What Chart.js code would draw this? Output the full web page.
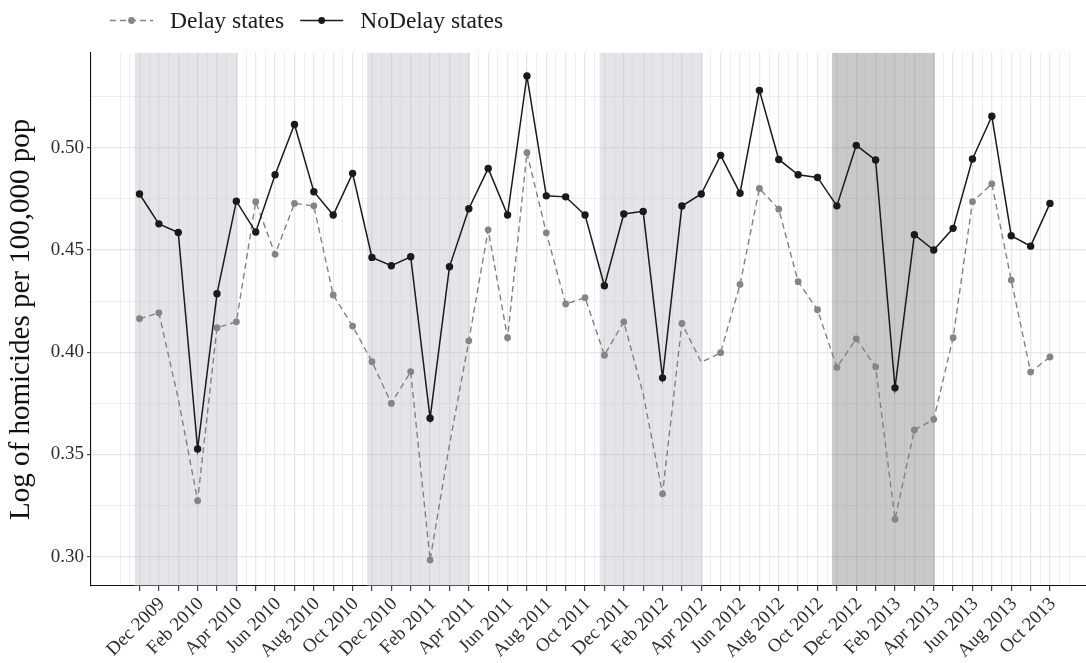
<!DOCTYPE html>
<html>
<head>
<meta charset="utf-8">
<script src="https://cdn.jsdelivr.net/npm/chart.js@4/dist/chart.umd.min.js"></script>
<style>
  html, body { margin: 0; padding: 0; background: #ffffff; overflow: hidden; }
  #wrap { position: relative; width: 1086px; height: 663px; }
</style>
</head>
<body>
<div id="wrap"><canvas id="chart" width="1086" height="663"></canvas></div>
<script>
// Monthly observations, Nov 2009 - Oct 2013
const months = [
  'Nov 2009', 'Dec 2009',
  'Jan 2010', 'Feb 2010', 'Mar 2010', 'Apr 2010', 'May 2010', 'Jun 2010',
  'Jul 2010', 'Aug 2010', 'Sep 2010', 'Oct 2010', 'Nov 2010', 'Dec 2010',
  'Jan 2011', 'Feb 2011', 'Mar 2011', 'Apr 2011', 'May 2011', 'Jun 2011',
  'Jul 2011', 'Aug 2011', 'Sep 2011', 'Oct 2011', 'Nov 2011', 'Dec 2011',
  'Jan 2012', 'Feb 2012', 'Mar 2012', 'Apr 2012', 'May 2012', 'Jun 2012',
  'Jul 2012', 'Aug 2012', 'Sep 2012', 'Oct 2012', 'Nov 2012', 'Dec 2012',
  'Jan 2013', 'Feb 2013', 'Mar 2013', 'Apr 2013', 'May 2013', 'Jun 2013',
  'Jul 2013', 'Aug 2013', 'Sep 2013', 'Oct 2013'
];

// Months that carry a label on the time axis
const tickLabels = [
  'Dec 2009', 'Feb 2010', 'Apr 2010', 'Jun 2010', 'Aug 2010', 'Oct 2010',
  'Dec 2010', 'Feb 2011', 'Apr 2011', 'Jun 2011', 'Aug 2011', 'Oct 2011',
  'Dec 2011', 'Feb 2012', 'Apr 2012', 'Jun 2012', 'Aug 2012', 'Oct 2012',
  'Dec 2012', 'Feb 2013', 'Apr 2013', 'Jun 2013', 'Aug 2013', 'Oct 2013'
];

// Log of homicides per 100,000 population
const noDelay = [
  0.4774, 0.4628, 0.4586, 0.3527, 0.4286, 0.4739, 0.4588, 0.4868,
  0.5114, 0.4785, 0.4671, 0.4875, 0.4464, 0.4423, 0.4467, 0.3677,
  0.4418, 0.4702, 0.4899, 0.4671, 0.5351, 0.4765, 0.4760, 0.4671,
  0.4325, 0.4676, 0.4689, 0.3875, 0.4715, 0.4774, 0.4963, 0.4778,
  0.5281, 0.4943, 0.4868, 0.4855, 0.4716, 0.5012, 0.4940, 0.3826,
  0.4575, 0.4500, 0.4606, 0.4945, 0.5154, 0.4570, 0.4519, 0.4728
];

const delay = [
  0.4164, 0.4193, 0.3773, 0.3274, 0.4120, 0.4149, 0.4736, 0.4479,
  0.4728, 0.4716, 0.4280, 0.4128, 0.3954, 0.3750, 0.3905, 0.2984,
  0.3547, 0.4056, 0.4599, 0.4071, 0.4976, 0.4584, 0.4236, 0.4267,
  0.3986, 0.4149, 0.3796, 0.3308, 0.4141, 0.3951, 0.3998, 0.4332,
  0.4801, 0.4700, 0.4345, 0.4208, 0.3926, 0.4066, 0.3929, 0.3183,
  0.3620, 0.3672, 0.4071, 0.4736, 0.4824, 0.4353, 0.3903, 0.3977
];

// Delay-state months drawn on the line without a marker
const delayUnmarked = ['Jan 2010', 'Mar 2011', 'Jan 2012', 'Apr 2012'];

// Shaded periods, in months from Nov 2009
const shadeFrom = [-0.25, 11.75, 23.75, 35.75];
const shadeTo = [5.06, 17.06, 29.06, 41.06];
const shadeDark = [false, false, false, true];

// y-axis labels
const yTickLabels = ['0.30', '0.35', '0.40', '0.45', '0.50'];

const SERIF = '"Liberation Serif", "DejaVu Serif", serif';
const GRID_MAJOR = '#e7e7e7';
const GRID_MINOR = '#eeeeee';

const isMajorX = v => Number.isInteger(v) && v >= 0 && v < months.length;
const yKey = v => (Math.round(v * 1000) / 1000).toFixed(2);
const isMajorY = v => Math.abs(Math.round(v * 1000) % 50) === 0;

const shadePlugin = {
  id: 'shade',
  beforeDatasetsDraw(chart) {
    const { ctx, chartArea, scales: { x } } = chart;
    ctx.save();
    ctx.beginPath();
    ctx.rect(chartArea.left, chartArea.top, chartArea.right - chartArea.left, chartArea.bottom - chartArea.top);
    ctx.clip();
    shadeFrom.forEach((from, i) => {
      const x0 = x.getPixelForValue(from);
      const x1 = x.getPixelForValue(shadeTo[i]);
      ctx.fillStyle = shadeDark[i] ? 'rgba(118,120,126,0.40)' : 'rgba(188,190,198,0.40)';
      ctx.fillRect(x0, chartArea.top, x1 - x0, chartArea.bottom - chartArea.top);
    });
    ctx.restore();
  }
};

const legendPlugin = {
  id: 'keyRow',
  afterDraw(chart) {
    const ctx = chart.ctx;
    const entries = chart.data.datasets.slice().reverse();
    const y = 20.5;
    let x = 110;
    ctx.save();
    ctx.font = '23.5px ' + SERIF;
    ctx.textBaseline = 'alphabetic';
    entries.forEach(ds => {
      const x0 = x, x1 = x + 43;
      ctx.strokeStyle = ds.borderColor;
      ctx.lineWidth = ds.borderWidth;
      ctx.setLineDash(ds.borderDash || []);
      ctx.beginPath();
      ctx.moveTo(x0, y);
      ctx.lineTo(x1, y);
      ctx.stroke();
      ctx.setLineDash([]);
      ctx.fillStyle = ds.pointBackgroundColor;
      ctx.beginPath();
      ctx.arc((x0 + x1) / 2, y, 3.4, 0, Math.PI * 2);
      ctx.fill();
      ctx.fillStyle = '#1a1a1a';
      ctx.fillText(ds.label, x1 + 17, 28.3);
      x = x1 + 17 + ctx.measureText(ds.label).width + 16;
    });
    ctx.restore();
  }
};

new Chart(document.getElementById('chart'), {
  type: 'line',
  data: {
    datasets: [
      {
        label: 'NoDelay states',
        data: noDelay.map((v, i) => ({ x: i, y: v })),
        borderColor: '#1a1a1a',
        borderWidth: 1.5,
        pointBackgroundColor: '#1a1a1a',
        pointBorderWidth: 0,
        pointRadius: 3.7,
        tension: 0,
        order: 0
      },
      {
        label: 'Delay states',
        data: delay.map((v, i) => ({ x: i, y: v })),
        borderColor: '#828282',
        borderWidth: 1.4,
        borderDash: [6, 4],
        pointBackgroundColor: '#858585',
        pointBorderWidth: 0,
        pointRadius: c => delayUnmarked.includes(months[c.dataIndex]) ? 0 : 3.4,
        tension: 0,
        spanGaps: true,
        order: 1
      }
    ]
  },
  options: {
    responsive: false,
    animation: false,
    events: [],
    layout: { autoPadding: false, padding: { top: 52.7, left: 0, right: 0, bottom: 0 } },
    plugins: { legend: { display: false }, tooltip: { enabled: false } },
    scales: {
      x: {
        type: 'linear',
        min: -2.504,
        max: 48.86,
        afterBuildTicks(s) {
          const t = [];
          for (let v = -1; v <= months.length; v += 0.5) t.push({ value: v });
          s.ticks = t;
        },
        afterFit(s) {
          s.height = 77;
          s.paddingLeft = 0;
          s.paddingRight = 0;
        },
        ticks: {
          autoSkip: false,
          minRotation: 45,
          maxRotation: 45,
          padding: 2,
          labelOffset: 3,
          color: '#2e2e2e',
          font: { family: SERIF, size: 19 },
          callback: v => {
            if (!isMajorX(v)) return '';
            return tickLabels.includes(months[v]) ? months[v] : '';
          }
        },
        grid: {
          color: c => isMajorX(c.tick.value) ? GRID_MAJOR : GRID_MINOR,
          lineWidth: c => isMajorX(c.tick.value) ? 1.3 : 1,
          tickColor: c => isMajorX(c.tick.value) ? '#333333' : 'rgba(0,0,0,0)',
          tickLength: 5,
          tickWidth: 1.1
        },
        border: { display: true, color: '#111111', width: 1.1 }
      },
      y: {
        type: 'linear',
        min: 0.2857,
        max: 0.5465,
        afterBuildTicks(s) {
          const t = [];
          for (let k = 0; k <= 9; k++) t.push({ value: 0.30 + k * 0.025 });
          s.ticks = t;
        },
        afterFit(s) {
          s.width = 91;
          s.paddingTop = 0;
          s.paddingBottom = 0;
        },
        ticks: {
          padding: 3,
          color: '#2e2e2e',
          font: { family: SERIF, size: 19 },
          callback: v => {
            const key = yKey(v);
            return isMajorY(v) && yTickLabels.includes(key) ? key : '';
          }
        },
        grid: {
          color: c => isMajorY(c.tick.value) ? GRID_MAJOR : GRID_MINOR,
          lineWidth: c => isMajorY(c.tick.value) ? 1.3 : 1,
          tickColor: c => isMajorY(c.tick.value) ? '#333333' : 'rgba(0,0,0,0)',
          tickLength: 4,
          tickWidth: 1.1
        },
        border: { display: true, color: '#111111', width: 1.1 },
        title: {
          display: true,
          text: 'Log of homicides per 100,000 pop',
          color: '#111111',
          font: { family: SERIF, size: 29 },
          padding: { top: 4, bottom: 0 }
        }
      }
    }
  },
  plugins: [shadePlugin, legendPlugin]
});
</script>
</body>
</html>
